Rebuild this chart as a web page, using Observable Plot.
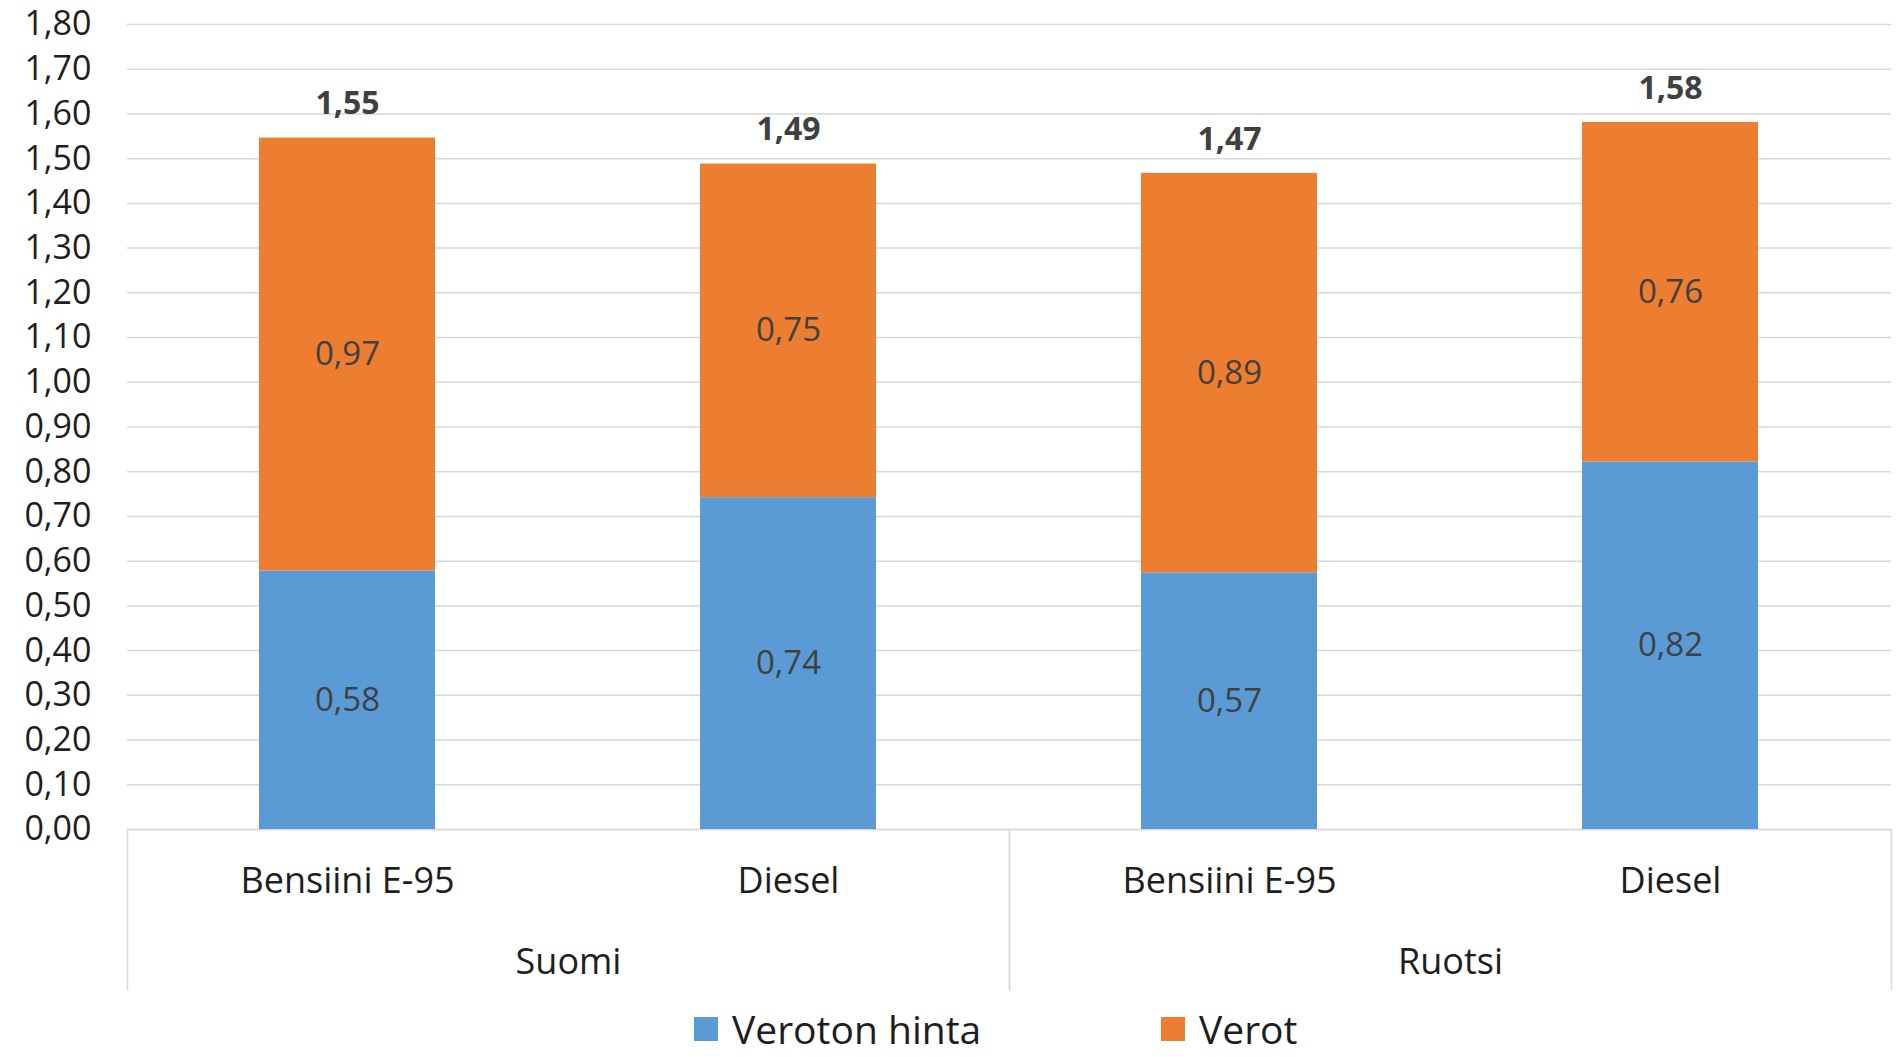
<!DOCTYPE html>
<html>
<head>
<meta charset="utf-8">
<script src="https://cdn.jsdelivr.net/npm/d3@7"></script>
<script src="https://cdn.jsdelivr.net/npm/@observablehq/plot@0.6"></script>
<style>
  html, body { margin: 0; padding: 0; background: #fff; }
  body { font-family: 'Open Sans', sans-serif; width: 1903px; }
  #legend { position: relative; height: 40px; margin-top: 9px; }
  .item { position: absolute; top: 0; height: 40px; line-height: 40px; display: flex; align-items: center; font-size: 39px; color: #1e1e1e; white-space: nowrap; }
  .sw { width: 24px; height: 24px; margin-right: 14px; }
</style>
</head>
<body>
<div id="chart"></div>
<div id="legend"></div>
<script>
const countries = ["Suomi", "Suomi", "Ruotsi", "Ruotsi"];
const fuels = ["Bensiini E-95", "Diesel", "Bensiini E-95", "Diesel"];
const groupOrder = ["Suomi", "Ruotsi"];
const fuelOrder = ["Bensiini E-95", "Diesel"];
const veroton = [0.578, 0.742, 0.574, 0.822];
const verot = [0.968, 0.746, 0.893, 0.759];
const seriesNames = ["Veroton hinta", "Verot"];
const seriesColors = ["#5B9BD5", "#ED7D31"];
const yTicks = [0, 0.1, 0.2, 0.3, 0.4, 0.5, 0.6, 0.7, 0.8, 0.9, 1.0, 1.1, 1.2, 1.3, 1.4, 1.5, 1.6, 1.7, 1.8];

const fmt = d => d.toFixed(2).replace(".", ",");

const rows = [];
const totals = [];
countries.forEach((c, i) => {
  rows.push({country: c, fuel: fuels[i], series: seriesNames[0], value: veroton[i]});
  rows.push({country: c, fuel: fuels[i], series: seriesNames[1], value: verot[i]});
  totals.push({country: c, fuel: fuels[i], total: veroton[i] + verot[i]});
});

const chart = Plot.plot({
  width: 1903,
  height: 1000,
  marginTop: 24,
  marginBottom: 171,
  marginLeft: 127,
  marginRight: 12,
  style: {fontFamily: "'Open Sans', sans-serif", background: "white", overflow: "visible"},
  fx: {domain: groupOrder, padding: 0, axis: null},
  x: {domain: fuelOrder, paddingInner: 0.6, paddingOuter: 0.3, axis: null},
  y: {domain: [0, 1.8], axis: null},
  color: {domain: seriesNames, range: seriesColors},
  marks: [
    Plot.gridY(yTicks, {stroke: "#D9D9D9", strokeOpacity: 1, strokeWidth: 1.5}),
    Plot.ruleY([0], {stroke: "#D9D9D9", strokeWidth: 1.5}),
    Plot.barY(rows, Plot.stackY({fx: "country", x: "fuel", y: "value", fill: "series", z: "series", order: seriesNames})),
    Plot.text(rows, Plot.stackY({fx: "country", x: "fuel", y: "value", z: "series", order: seriesNames, text: d => fmt(d.value), fill: "#404040", fontSize: 33})),
    Plot.text(totals, {fx: "country", x: "fuel", y: "total", text: d => fmt(d.total), dy: -34, fill: "#404040", fontSize: 32, fontWeight: "bold"}),
    Plot.axisX({tickSize: 0, tickPadding: 38, fontSize: 36, fill: "#1e1e1e", label: null}),
    Plot.axisY(yTicks, {tickSize: 0, tickPadding: 36, tickFormat: fmt, fontSize: 34, fill: "#1e1e1e", label: null}),
    Plot.text(groupOrder, {fx: d => d, text: d => d, frameAnchor: "bottom", dy: 144, fontSize: 36, fill: "#1e1e1e"}),
    Plot.frame({anchor: "left", insetTop: 805, insetBottom: -160, stroke: "#D9D9D9", strokeWidth: 1.5}),
    Plot.frame({anchor: "right", insetTop: 805, insetBottom: -160, stroke: "#D9D9D9", strokeWidth: 1.5})
  ]
});
document.getElementById("chart").appendChild(chart);

const legendLefts = [694, 1161];
const legend = d3.select("#legend");
seriesNames.forEach((s, i) => {
  const item = legend.append("div").attr("class", "item").style("left", legendLefts[i] + "px");
  item.append("div").attr("class", "sw").style("background", seriesColors[i]);
  item.append("span").text(s);
});
</script>
</body>
</html>
